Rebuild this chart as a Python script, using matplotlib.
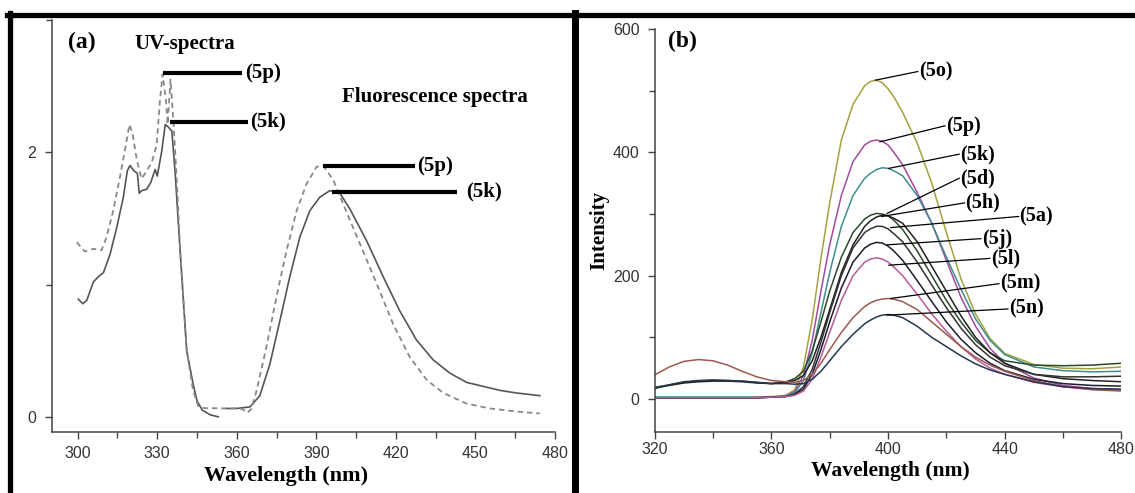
import matplotlib
matplotlib.use("Agg")
from matplotlib import pyplot as plt
from matplotlib.lines import Line2D

# ---------- panel (a): UV + fluorescence, compounds 5k (solid) and 5p (dashed)
uv_5k_wl = [300.2, 301.9, 303.4, 305.9, 307.8, 309.7, 312.2, 314.7, 317.2, 318.7, 319.7, 321.2,
            322.5, 323.2, 324.1, 326.0, 327.5, 329.2, 330.0, 331.7, 333.0, 334.2, 335.5, 336.7,
            338.6, 341.1, 343.5, 345.0, 347.0, 350.0, 353.0]
uv_5k_a = [0.89, 0.855, 0.88, 1.02, 1.06, 1.09, 1.23, 1.43, 1.66, 1.86, 1.90, 1.86,
           1.84, 1.69, 1.71, 1.72, 1.77, 1.87, 1.82, 2.01, 2.21, 2.19, 2.16, 1.86,
           1.26, 0.50, 0.25, 0.12, 0.05, 0.015, 0.0]

fl_5k_wl = [356, 360, 365, 368.7, 372.5, 376.3, 380, 383.8, 387.6, 391.3, 395.1, 398.9, 402.7,
            409, 415.2, 421.5, 427.8, 434.1, 440.4, 446.7, 453, 459.2, 465.5, 474.3]
fl_5k_i = [0.063, 0.063, 0.075, 0.16, 0.40, 0.73, 1.06, 1.36, 1.56, 1.66, 1.71, 1.69, 1.57,
           1.33, 1.06, 0.80, 0.58, 0.43, 0.33, 0.26, 0.23, 0.20, 0.18, 0.16]

sp_5p_wl = [299.6, 302.7, 305.9, 309, 310.9, 313.4, 315.9, 318.2, 319.5, 320.7, 322.3, 324.1,
            326, 327.9, 329.8, 331, 332, 333.3, 333.9, 335, 336, 337.3, 338.6, 341.1, 343.5,
            345.5, 348, 352, 356, 360, 362, 364, 365.5, 367.5, 371.2, 375, 378.8, 382.6,
            386.3, 390.1, 392.6, 396.4, 400.1, 406.4, 412.7, 419, 425.3, 431.6, 437.9,
            446.7, 455.5, 465.5, 474.3]
sp_5p_v = [1.32, 1.25, 1.27, 1.26, 1.36, 1.56, 1.81, 2.06, 2.21, 2.14, 1.94, 1.80,
           1.86, 1.92, 2.06, 2.39, 2.59, 2.39, 2.21, 2.55, 2.26, 1.81, 1.28, 0.50, 0.20,
           0.08, 0.065, 0.065, 0.063, 0.063, 0.06, 0.03, 0.06, 0.20, 0.53, 0.91, 1.26, 1.56,
           1.76, 1.89, 1.90, 1.79, 1.61, 1.31, 1.01, 0.70, 0.45, 0.28, 0.18,
           0.10, 0.063, 0.04, 0.025]

# label bars of panel (a): name, x start, x end, y, text x
bars_a = [("(5p)", 332.2, 362.0, 2.60, 363.0),
          ("(5k)", 334.8, 364.3, 2.23, 365.0),
          ("(5p)", 392.6, 427.2, 1.90, 428.0),
          ("(5k)", 395.8, 442.9, 1.70, 446.5)]

# ---------- panel (b): fluorescence intensity of the series
wl_b = [320, 325, 330, 335, 340, 345, 350, 355, 360, 365,
        368, 371, 374, 377, 380,
        384, 388, 392, 394, 396, 398, 400, 402, 405,
        410, 415, 420, 425, 430, 435, 440,
        450, 460, 470, 480]

i_5o = [3, 3, 3, 3, 3, 3, 3, 3, 4, 6,
        15, 52, 128, 228, 318,
        420, 478, 508, 515, 517, 513, 503, 490, 465,
        415, 350, 270, 195, 138, 98, 74,
        56, 50, 49, 52]
i_5p = [2, 2, 2, 2, 2, 2, 2, 2, 3, 5,
        12, 38, 95, 175, 250,
        330, 385, 412, 418, 420, 418, 412, 400, 380,
        335, 285, 225, 165, 118, 82, 58,
        34, 22, 17, 15]
i_5k = [3, 3, 3, 3, 3, 3, 3, 3, 3, 5,
        10, 30, 75, 140, 205,
        280, 330, 358, 366, 372, 375, 374, 370, 362,
        330, 285, 230, 178, 130, 95, 72,
        52, 46, 44, 45]
i_5d = [19, 23, 27, 29, 30, 30, 29, 27, 25, 28,
        33, 45, 78, 125, 175,
        230, 270, 292, 298, 301, 300, 297, 290, 275,
        240, 200, 160, 125, 95, 75, 62,
        55, 54, 55, 58]
i_5h = [18, 22, 26, 28, 29, 29, 28, 26, 25, 27,
        30, 38, 62, 100, 145,
        205, 250, 280, 289, 295, 298, 297, 293, 285,
        255, 215, 175, 135, 100, 75, 58,
        40, 33, 30, 28]
i_5a = [2, 2, 2, 2, 2, 2, 2, 2, 3, 4,
        8, 20, 48, 92, 140,
        200, 245, 270, 276, 280, 280, 276, 268, 255,
        222, 185, 148, 115, 88, 68, 54,
        40, 36, 36, 37]
i_5j = [2, 2, 2, 2, 2, 2, 2, 2, 3, 4,
        7, 16, 40, 80, 125,
        180, 222, 245, 251, 254, 253, 248, 240, 225,
        192, 158, 125, 97, 75, 58, 46,
        32, 25, 22, 21]
i_5l = [2, 2, 2, 2, 2, 2, 2, 2, 3, 4,
        6, 13, 32, 68, 108,
        160, 200, 222, 227, 229, 227, 222, 214, 200,
        170, 138, 110, 85, 65, 50, 40,
        27, 20, 16, 14]
i_5m = [39, 52, 61, 64, 62, 55, 45, 36, 30, 28,
        27, 30, 40, 58, 80,
        108, 132, 150, 156, 160, 162, 163, 162, 158,
        145, 125, 105, 85, 68, 55, 45,
        30, 20, 15, 13]
i_5n = [17, 23, 28, 30, 31, 30, 29, 27, 25, 25,
        24, 25, 32, 45, 62,
        85, 105, 122, 128, 133, 136, 137, 136, 132,
        118, 100, 85, 70, 57, 47, 40,
        28, 20, 17, 16]

names_b = ["(5o)", "(5p)", "(5k)", "(5d)", "(5h)", "(5a)", "(5j)", "(5l)", "(5m)", "(5n)"]
series_b = [i_5o, i_5p, i_5k, i_5d, i_5h, i_5a, i_5j, i_5l, i_5m, i_5n]
colors_b = ["#a5a23e", "#a24aa2", "#3f8f8c", "#2b4a2b", "#222222", "#333333",
            "#1c1c30", "#b45c9c", "#9c5a4f", "#263552"]
# leader lines: peak point -> label point
lead_from = [(395.7, 517), (397.2, 417), (400.3, 374), (399.7, 301), (397.8, 296),
             (400.9, 278), (399.7, 250), (400.3, 217), (400.9, 163), (399.7, 136)]
lead_to = [(410.2, 531), (419.5, 443), (424.4, 397), (424.4, 358), (426.2, 318),
           (444.8, 296), (431.8, 260), (434.9, 228), (438.0, 187), (441.1, 146)]

serif = ["Liberation Serif", "DejaVu Serif"]
sans = ["Liberation Sans", "DejaVu Sans"]
plt.rcParams['font.family'] = sans

fig = plt.figure(figsize=(11.35, 4.93), dpi=100)


def style_axes(ax):
    ax.spines['top'].set_visible(False)
    ax.spines['right'].set_visible(False)
    for s in ('left', 'bottom'):
        ax.spines[s].set_color('#444444')
        ax.spines[s].set_linewidth(1.1)
    ax.tick_params(which='both', direction='out', color='#444444', width=1.0,
                   labelsize=11.5, labelcolor='#333333')
    ax.tick_params(which='major', length=5)
    ax.tick_params(which='minor', length=4)


# ---------- (a)
ax1 = fig.add_axes([0.0456, 0.1237, 0.4433, 0.8357])
style_axes(ax1)
ax1.plot(uv_5k_wl, uv_5k_a, color='#555555', lw=1.2)
ax1.plot(fl_5k_wl, fl_5k_i, color='#555555', lw=1.2)
ax1.plot(sp_5p_wl, sp_5p_v, color='#888888', lw=1.3, linestyle=(0, (3, 2.2)))
for name, x0, x1, y, xt in bars_a:
    ax1.plot([x0, x1], [y, y], color='black', lw=3, solid_capstyle='butt')
    ax1.text(xt, y, name, family=serif, fontweight='bold', fontsize=15,
             ha='left', va='center')
ax1.set_xlim(290.2, 480)
ax1.set_ylim(-0.115, 3.0)
ax1.set_xticks([300, 330, 360, 390, 420, 450, 480])
ax1.set_xticks([315, 345, 375, 405, 435, 465], minor=True)
ax1.set_yticks([0, 2])
ax1.set_yticks([1, 3], minor=True)
ax1.tick_params(axis='x', pad=5)
ax1.tick_params(axis='y', pad=6)
ax1.set_xlabel("Wavelength (nm)", family=serif, fontweight='bold', fontsize=16,
               va='center')
ax1.xaxis.set_label_coords(0.466, -0.107)
ax1.text(301.4, 2.83, "(a)", family=serif, fontweight='bold', fontsize=17,
         ha='center', va='center')
ax1.text(340.5, 2.82, "UV-spectra", family=serif, fontweight='bold', fontsize=15,
         ha='center', va='center')
ax1.text(434.8, 2.42, "Fluorescence spectra", family=serif, fontweight='bold',
         fontsize=15, ha='center', va='center')

# ---------- (b)
ax2 = fig.add_axes([0.5768, 0.1237, 0.4112, 0.8175])
style_axes(ax2)
for y, c in zip(series_b, colors_b):
    ax2.plot(wl_b, y, color=c, lw=1.1)
for name, p0, p1 in zip(names_b, lead_from, lead_to):
    ax2.plot([p0[0], p1[0]], [p0[1], p1[1]], color='black', lw=0.9)
    ax2.text(p1[0] + 0.3, p1[1], name, family=serif, fontweight='bold', fontsize=14.5,
             ha='left', va='center')
ax2.set_xlim(320, 480)
ax2.set_ylim(-53.5, 600)
ax2.set_xticks([320, 360, 400, 440, 480])
ax2.set_xticks([340, 380, 420, 460], minor=True)
ax2.set_yticks([0, 200, 400, 600])
ax2.set_yticks([100, 300, 500], minor=True)
ax2.tick_params(axis='x', pad=2)
ax2.tick_params(axis='y', pad=6)
ax2.set_xlabel("Wavelength (nm)", family=serif, fontweight='bold', fontsize=15.5,
               va='center')
ax2.xaxis.set_label_coords(0.505, -0.097)
ax2.set_ylabel("Intensity", family=serif, fontweight='bold', fontsize=15,
               va='center')
ax2.yaxis.set_label_coords(-0.118, 0.5)
ax2.text(329.5, 579, "(b)", family=serif, fontweight='bold', fontsize=17,
         ha='center', va='center')

# ---------- black frame around the two panels
W, H = 1135.0, 493.0
frame = dict(color='black', lw=3.8, transform=fig.transFigure)
fig.add_artist(Line2D([7 / W, 1.0], [1 - 14.5 / H, 1 - 14.5 / H], **frame))
fig.add_artist(Line2D([10 / W, 10 / W], [0.0, 1 - 12.5 / H], **frame))
fig.add_artist(Line2D([574.5 / W, 574.5 / W], [0.0, 1 - 12.5 / H], lw=5,
                      color='black', transform=fig.transFigure))

fig.savefig("out.png", dpi=100)
